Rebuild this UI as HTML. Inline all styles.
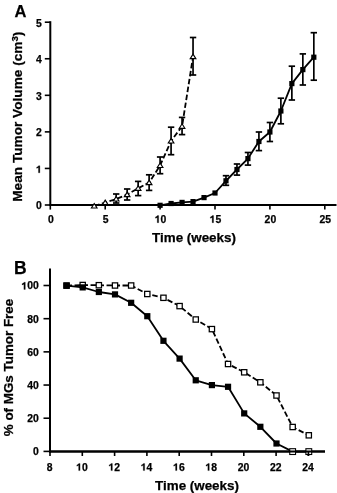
<!DOCTYPE html>
<html><head><meta charset="utf-8"><style>
html,body{margin:0;padding:0;background:#fff;}
svg{display:block;}
body{filter:grayscale(1);}
text{font-family:"Liberation Sans", sans-serif;font-weight:bold;fill:#000;stroke:#000;stroke-width:0.25px;}
</style></head><body>
<svg width="337" height="493" viewBox="0 0 337 493">
<defs><filter id="soft" x="0" y="0" width="100%" height="100%"><feGaussianBlur stdDeviation="0.3"/></filter></defs>
<rect width="337" height="493" fill="#fff"/>
<g filter="url(#soft)">
<line x1="50.30" y1="21.20" x2="50.30" y2="206.00" stroke="#000" stroke-width="2"/>
<line x1="49.30" y1="205.00" x2="336.50" y2="205.00" stroke="#000" stroke-width="2"/>
<line x1="44.80" y1="205.00" x2="50.30" y2="205.00" stroke="#000" stroke-width="1.6"/>
<text x="36.02" y="209.40" font-size="10.4">0</text>
<line x1="44.80" y1="168.44" x2="50.30" y2="168.44" stroke="#000" stroke-width="1.6"/>
<path d="M759,0 L478,0 L478,1030 Q330,930 120,880 L120,1120 Q330,1190 440,1300 Q490,1350 510,1409 L759,1409 Z" transform="translate(36.02,172.84) scale(0.00508,-0.00508)" fill="#000" stroke="#000" stroke-width="49.2"/>
<line x1="44.80" y1="131.88" x2="50.30" y2="131.88" stroke="#000" stroke-width="1.6"/>
<text x="36.02" y="136.28" font-size="10.4">2</text>
<line x1="44.80" y1="95.32" x2="50.30" y2="95.32" stroke="#000" stroke-width="1.6"/>
<text x="36.02" y="99.72" font-size="10.4">3</text>
<line x1="44.80" y1="58.76" x2="50.30" y2="58.76" stroke="#000" stroke-width="1.6"/>
<text x="36.02" y="63.16" font-size="10.4">4</text>
<line x1="44.80" y1="22.20" x2="50.30" y2="22.20" stroke="#000" stroke-width="1.6"/>
<text x="36.02" y="26.60" font-size="10.4">5</text>
<line x1="50.30" y1="205.00" x2="50.30" y2="209.60" stroke="#000" stroke-width="1.6"/>
<text x="47.91" y="222.70" font-size="10.4">0</text>
<line x1="105.20" y1="205.00" x2="105.20" y2="209.60" stroke="#000" stroke-width="1.6"/>
<text x="102.81" y="222.70" font-size="10.4">5</text>
<line x1="160.10" y1="205.00" x2="160.10" y2="209.60" stroke="#000" stroke-width="1.6"/>
<path d="M759,0 L478,0 L478,1030 Q330,930 120,880 L120,1120 Q330,1190 440,1300 Q490,1350 510,1409 L759,1409 Z" transform="translate(154.82,222.70) scale(0.00508,-0.00508)" fill="#000" stroke="#000" stroke-width="49.2"/>
<text x="160.60" y="222.70" font-size="10.4">0</text>
<line x1="215.00" y1="205.00" x2="215.00" y2="209.60" stroke="#000" stroke-width="1.6"/>
<path d="M759,0 L478,0 L478,1030 Q330,930 120,880 L120,1120 Q330,1190 440,1300 Q490,1350 510,1409 L759,1409 Z" transform="translate(209.72,222.70) scale(0.00508,-0.00508)" fill="#000" stroke="#000" stroke-width="49.2"/>
<text x="215.50" y="222.70" font-size="10.4">5</text>
<line x1="269.90" y1="205.00" x2="269.90" y2="209.60" stroke="#000" stroke-width="1.6"/>
<text x="264.62" y="222.70" font-size="10.4">2</text>
<text x="270.40" y="222.70" font-size="10.4">0</text>
<line x1="324.80" y1="205.00" x2="324.80" y2="209.60" stroke="#000" stroke-width="1.6"/>
<text x="319.52" y="222.70" font-size="10.4">2</text>
<text x="325.30" y="222.70" font-size="10.4">5</text>
<line x1="116.18" y1="194.00" x2="116.18" y2="203.00" stroke="#000" stroke-width="1.7"/>
<line x1="112.98" y1="194.00" x2="119.38" y2="194.00" stroke="#000" stroke-width="1.7"/>
<line x1="112.98" y1="203.00" x2="119.38" y2="203.00" stroke="#000" stroke-width="1.7"/>
<line x1="127.16" y1="189.00" x2="127.16" y2="200.00" stroke="#000" stroke-width="1.7"/>
<line x1="123.96" y1="189.00" x2="130.36" y2="189.00" stroke="#000" stroke-width="1.7"/>
<line x1="123.96" y1="200.00" x2="130.36" y2="200.00" stroke="#000" stroke-width="1.7"/>
<line x1="138.14" y1="181.40" x2="138.14" y2="195.60" stroke="#000" stroke-width="1.7"/>
<line x1="134.94" y1="181.40" x2="141.34" y2="181.40" stroke="#000" stroke-width="1.7"/>
<line x1="134.94" y1="195.60" x2="141.34" y2="195.60" stroke="#000" stroke-width="1.7"/>
<line x1="149.12" y1="174.80" x2="149.12" y2="190.40" stroke="#000" stroke-width="1.7"/>
<line x1="145.92" y1="174.80" x2="152.32" y2="174.80" stroke="#000" stroke-width="1.7"/>
<line x1="145.92" y1="190.40" x2="152.32" y2="190.40" stroke="#000" stroke-width="1.7"/>
<line x1="160.10" y1="157.00" x2="160.10" y2="173.70" stroke="#000" stroke-width="1.7"/>
<line x1="156.90" y1="157.00" x2="163.30" y2="157.00" stroke="#000" stroke-width="1.7"/>
<line x1="156.90" y1="173.70" x2="163.30" y2="173.70" stroke="#000" stroke-width="1.7"/>
<line x1="171.08" y1="127.20" x2="171.08" y2="154.70" stroke="#000" stroke-width="1.7"/>
<line x1="167.88" y1="127.20" x2="174.28" y2="127.20" stroke="#000" stroke-width="1.7"/>
<line x1="167.88" y1="154.70" x2="174.28" y2="154.70" stroke="#000" stroke-width="1.7"/>
<line x1="182.06" y1="117.40" x2="182.06" y2="134.60" stroke="#000" stroke-width="1.7"/>
<line x1="178.86" y1="117.40" x2="185.26" y2="117.40" stroke="#000" stroke-width="1.7"/>
<line x1="178.86" y1="134.60" x2="185.26" y2="134.60" stroke="#000" stroke-width="1.7"/>
<line x1="193.04" y1="37.50" x2="193.04" y2="75.00" stroke="#000" stroke-width="1.7"/>
<line x1="189.84" y1="37.50" x2="196.24" y2="37.50" stroke="#000" stroke-width="1.7"/>
<line x1="189.84" y1="75.00" x2="196.24" y2="75.00" stroke="#000" stroke-width="1.7"/>
<line x1="225.98" y1="175.70" x2="225.98" y2="185.30" stroke="#000" stroke-width="1.7"/>
<line x1="222.78" y1="175.70" x2="229.18" y2="175.70" stroke="#000" stroke-width="1.7"/>
<line x1="222.78" y1="185.30" x2="229.18" y2="185.30" stroke="#000" stroke-width="1.7"/>
<line x1="236.96" y1="164.00" x2="236.96" y2="175.10" stroke="#000" stroke-width="1.7"/>
<line x1="233.76" y1="164.00" x2="240.16" y2="164.00" stroke="#000" stroke-width="1.7"/>
<line x1="233.76" y1="175.10" x2="240.16" y2="175.10" stroke="#000" stroke-width="1.7"/>
<line x1="247.94" y1="152.50" x2="247.94" y2="165.10" stroke="#000" stroke-width="1.7"/>
<line x1="244.74" y1="152.50" x2="251.14" y2="152.50" stroke="#000" stroke-width="1.7"/>
<line x1="244.74" y1="165.10" x2="251.14" y2="165.10" stroke="#000" stroke-width="1.7"/>
<line x1="258.92" y1="132.00" x2="258.92" y2="150.60" stroke="#000" stroke-width="1.7"/>
<line x1="255.72" y1="132.00" x2="262.12" y2="132.00" stroke="#000" stroke-width="1.7"/>
<line x1="255.72" y1="150.60" x2="262.12" y2="150.60" stroke="#000" stroke-width="1.7"/>
<line x1="269.90" y1="122.50" x2="269.90" y2="141.50" stroke="#000" stroke-width="1.7"/>
<line x1="266.70" y1="122.50" x2="273.10" y2="122.50" stroke="#000" stroke-width="1.7"/>
<line x1="266.70" y1="141.50" x2="273.10" y2="141.50" stroke="#000" stroke-width="1.7"/>
<line x1="280.88" y1="98.20" x2="280.88" y2="123.80" stroke="#000" stroke-width="1.7"/>
<line x1="277.68" y1="98.20" x2="284.08" y2="98.20" stroke="#000" stroke-width="1.7"/>
<line x1="277.68" y1="123.80" x2="284.08" y2="123.80" stroke="#000" stroke-width="1.7"/>
<line x1="291.86" y1="66.20" x2="291.86" y2="100.00" stroke="#000" stroke-width="1.7"/>
<line x1="288.66" y1="66.20" x2="295.06" y2="66.20" stroke="#000" stroke-width="1.7"/>
<line x1="288.66" y1="100.00" x2="295.06" y2="100.00" stroke="#000" stroke-width="1.7"/>
<line x1="302.84" y1="53.90" x2="302.84" y2="85.00" stroke="#000" stroke-width="1.7"/>
<line x1="299.64" y1="53.90" x2="306.04" y2="53.90" stroke="#000" stroke-width="1.7"/>
<line x1="299.64" y1="85.00" x2="306.04" y2="85.00" stroke="#000" stroke-width="1.7"/>
<line x1="313.82" y1="32.70" x2="313.82" y2="80.20" stroke="#000" stroke-width="1.7"/>
<line x1="310.62" y1="32.70" x2="317.02" y2="32.70" stroke="#000" stroke-width="1.7"/>
<line x1="310.62" y1="80.20" x2="317.02" y2="80.20" stroke="#000" stroke-width="1.7"/>
<polyline points="94.22,206.00 105.20,202.60 116.18,199.00 127.16,194.60 138.14,188.30 149.12,182.60 160.10,165.50 171.08,141.00 182.06,126.30 193.04,56.60" fill="none" stroke="#000" stroke-width="1.8" stroke-dasharray="5.5,2.5" stroke-linejoin="round"/>
<polyline points="160.10,205.30 171.08,203.50 182.06,202.40 193.04,201.60 204.02,197.60 215.00,193.00 225.98,180.80 236.96,169.50 247.94,158.60 258.92,141.50 269.90,132.00 280.88,111.00 291.86,83.60 302.84,69.60 313.82,57.20" fill="none" stroke="#000" stroke-width="1.8" stroke-linejoin="round"/>
<polygon points="94.22,203.50 97.02,208.00 91.42,208.00" fill="#fff" stroke="#000" stroke-width="1.15" stroke-linejoin="miter"/>
<polygon points="105.20,200.10 108.00,204.60 102.40,204.60" fill="#fff" stroke="#000" stroke-width="1.15" stroke-linejoin="miter"/>
<polygon points="116.18,196.50 118.98,201.00 113.38,201.00" fill="#fff" stroke="#000" stroke-width="1.15" stroke-linejoin="miter"/>
<polygon points="127.16,192.10 129.96,196.60 124.36,196.60" fill="#fff" stroke="#000" stroke-width="1.15" stroke-linejoin="miter"/>
<polygon points="138.14,185.80 140.94,190.30 135.34,190.30" fill="#fff" stroke="#000" stroke-width="1.15" stroke-linejoin="miter"/>
<polygon points="149.12,180.10 151.92,184.60 146.32,184.60" fill="#fff" stroke="#000" stroke-width="1.15" stroke-linejoin="miter"/>
<polygon points="160.10,163.00 162.90,167.50 157.30,167.50" fill="#fff" stroke="#000" stroke-width="1.15" stroke-linejoin="miter"/>
<polygon points="171.08,138.50 173.88,143.00 168.28,143.00" fill="#fff" stroke="#000" stroke-width="1.15" stroke-linejoin="miter"/>
<polygon points="182.06,123.80 184.86,128.30 179.26,128.30" fill="#fff" stroke="#000" stroke-width="1.15" stroke-linejoin="miter"/>
<polygon points="193.04,54.10 195.84,58.60 190.24,58.60" fill="#fff" stroke="#000" stroke-width="1.15" stroke-linejoin="miter"/>
<rect x="157.50" y="202.70" width="5.20" height="5.20" fill="#000"/>
<rect x="168.48" y="200.90" width="5.20" height="5.20" fill="#000"/>
<rect x="179.46" y="199.80" width="5.20" height="5.20" fill="#000"/>
<rect x="190.44" y="199.00" width="5.20" height="5.20" fill="#000"/>
<rect x="201.42" y="195.00" width="5.20" height="5.20" fill="#000"/>
<rect x="212.40" y="190.40" width="5.20" height="5.20" fill="#000"/>
<rect x="223.38" y="178.20" width="5.20" height="5.20" fill="#000"/>
<rect x="234.36" y="166.90" width="5.20" height="5.20" fill="#000"/>
<rect x="245.34" y="156.00" width="5.20" height="5.20" fill="#000"/>
<rect x="256.32" y="138.90" width="5.20" height="5.20" fill="#000"/>
<rect x="267.30" y="129.40" width="5.20" height="5.20" fill="#000"/>
<rect x="278.28" y="108.40" width="5.20" height="5.20" fill="#000"/>
<rect x="289.26" y="81.00" width="5.20" height="5.20" fill="#000"/>
<rect x="300.24" y="67.00" width="5.20" height="5.20" fill="#000"/>
<rect x="311.22" y="54.60" width="5.20" height="5.20" fill="#000"/>
<text x="14.60" y="16.60" font-size="16.5" text-anchor="start" font-weight="bold">A</text>
<text x="194.00" y="241.80" font-size="13.4" text-anchor="middle">Time (weeks)</text>
<text transform="translate(21.9,116.7) rotate(-90)" font-size="13.65" text-anchor="middle">Mean Tumor Volume (cm<tspan font-size="9.8" dy="-4.4">3</tspan><tspan dy="4.4">)</tspan></text>
<line x1="50.00" y1="268.40" x2="50.00" y2="452.40" stroke="#000" stroke-width="2"/>
<line x1="49.00" y1="451.40" x2="325.00" y2="451.40" stroke="#000" stroke-width="2"/>
<line x1="43.50" y1="451.40" x2="50.00" y2="451.40" stroke="#000" stroke-width="1.6"/>
<text x="33.02" y="455.30" font-size="10.4">0</text>
<line x1="43.50" y1="418.22" x2="50.00" y2="418.22" stroke="#000" stroke-width="1.6"/>
<text x="27.24" y="422.12" font-size="10.4">2</text>
<text x="33.02" y="422.12" font-size="10.4">0</text>
<line x1="43.50" y1="385.04" x2="50.00" y2="385.04" stroke="#000" stroke-width="1.6"/>
<text x="27.24" y="388.94" font-size="10.4">4</text>
<text x="33.02" y="388.94" font-size="10.4">0</text>
<line x1="43.50" y1="351.86" x2="50.00" y2="351.86" stroke="#000" stroke-width="1.6"/>
<text x="27.24" y="355.76" font-size="10.4">6</text>
<text x="33.02" y="355.76" font-size="10.4">0</text>
<line x1="43.50" y1="318.68" x2="50.00" y2="318.68" stroke="#000" stroke-width="1.6"/>
<text x="27.24" y="322.58" font-size="10.4">8</text>
<text x="33.02" y="322.58" font-size="10.4">0</text>
<line x1="43.50" y1="285.50" x2="50.00" y2="285.50" stroke="#000" stroke-width="1.6"/>
<path d="M759,0 L478,0 L478,1030 Q330,930 120,880 L120,1120 Q330,1190 440,1300 Q490,1350 510,1409 L759,1409 Z" transform="translate(21.45,289.40) scale(0.00508,-0.00508)" fill="#000" stroke="#000" stroke-width="49.2"/>
<text x="27.24" y="289.40" font-size="10.4">0</text>
<text x="33.02" y="289.40" font-size="10.4">0</text>
<line x1="50.00" y1="451.40" x2="50.00" y2="456.00" stroke="#000" stroke-width="1.6"/>
<text x="46.81" y="470.60" font-size="10.4">8</text>
<line x1="82.30" y1="451.40" x2="82.30" y2="456.00" stroke="#000" stroke-width="1.6"/>
<path d="M759,0 L478,0 L478,1030 Q330,930 120,880 L120,1120 Q330,1190 440,1300 Q490,1350 510,1409 L759,1409 Z" transform="translate(76.22,470.60) scale(0.00508,-0.00508)" fill="#000" stroke="#000" stroke-width="49.2"/>
<text x="82.00" y="470.60" font-size="10.4">0</text>
<line x1="114.60" y1="451.40" x2="114.60" y2="456.00" stroke="#000" stroke-width="1.6"/>
<path d="M759,0 L478,0 L478,1030 Q330,930 120,880 L120,1120 Q330,1190 440,1300 Q490,1350 510,1409 L759,1409 Z" transform="translate(108.52,470.60) scale(0.00508,-0.00508)" fill="#000" stroke="#000" stroke-width="49.2"/>
<text x="114.30" y="470.60" font-size="10.4">2</text>
<line x1="146.90" y1="451.40" x2="146.90" y2="456.00" stroke="#000" stroke-width="1.6"/>
<path d="M759,0 L478,0 L478,1030 Q330,930 120,880 L120,1120 Q330,1190 440,1300 Q490,1350 510,1409 L759,1409 Z" transform="translate(140.82,470.60) scale(0.00508,-0.00508)" fill="#000" stroke="#000" stroke-width="49.2"/>
<text x="146.60" y="470.60" font-size="10.4">4</text>
<line x1="179.20" y1="451.40" x2="179.20" y2="456.00" stroke="#000" stroke-width="1.6"/>
<path d="M759,0 L478,0 L478,1030 Q330,930 120,880 L120,1120 Q330,1190 440,1300 Q490,1350 510,1409 L759,1409 Z" transform="translate(173.12,470.60) scale(0.00508,-0.00508)" fill="#000" stroke="#000" stroke-width="49.2"/>
<text x="178.90" y="470.60" font-size="10.4">6</text>
<line x1="211.50" y1="451.40" x2="211.50" y2="456.00" stroke="#000" stroke-width="1.6"/>
<path d="M759,0 L478,0 L478,1030 Q330,930 120,880 L120,1120 Q330,1190 440,1300 Q490,1350 510,1409 L759,1409 Z" transform="translate(205.42,470.60) scale(0.00508,-0.00508)" fill="#000" stroke="#000" stroke-width="49.2"/>
<text x="211.20" y="470.60" font-size="10.4">8</text>
<line x1="243.80" y1="451.40" x2="243.80" y2="456.00" stroke="#000" stroke-width="1.6"/>
<text x="237.72" y="470.60" font-size="10.4">2</text>
<text x="243.50" y="470.60" font-size="10.4">0</text>
<line x1="276.10" y1="451.40" x2="276.10" y2="456.00" stroke="#000" stroke-width="1.6"/>
<text x="270.02" y="470.60" font-size="10.4">2</text>
<text x="275.80" y="470.60" font-size="10.4">2</text>
<line x1="308.40" y1="451.40" x2="308.40" y2="456.00" stroke="#000" stroke-width="1.6"/>
<text x="302.32" y="470.60" font-size="10.4">2</text>
<text x="308.10" y="470.60" font-size="10.4">4</text>
<polyline points="66.55,285.60 82.70,285.00 98.85,285.20 115.00,285.50 131.15,285.50 147.30,294.00 163.45,297.80 179.60,306.10 195.75,319.50 211.90,329.10 228.05,364.00 244.20,372.30 260.35,382.30 276.50,395.50 292.65,427.00 308.80,435.30" fill="none" stroke="#000" stroke-width="1.8" stroke-dasharray="5.5,2.5" stroke-linejoin="round"/>
<polyline points="66.55,285.60 82.70,287.40 98.85,292.00 115.00,294.40 131.15,302.80 147.30,316.20 163.45,340.80 179.60,358.60 195.75,380.30 211.90,385.10 228.05,386.80 244.20,413.40 260.35,426.80 276.50,443.50 292.65,451.60 308.80,451.60" fill="none" stroke="#000" stroke-width="1.8" stroke-linejoin="round"/>
<rect x="63.90" y="282.95" width="5.30" height="5.30" fill="#fff" stroke="#000" stroke-width="1.25"/>
<rect x="80.05" y="282.35" width="5.30" height="5.30" fill="#fff" stroke="#000" stroke-width="1.25"/>
<rect x="96.20" y="282.55" width="5.30" height="5.30" fill="#fff" stroke="#000" stroke-width="1.25"/>
<rect x="112.35" y="282.85" width="5.30" height="5.30" fill="#fff" stroke="#000" stroke-width="1.25"/>
<rect x="128.50" y="282.85" width="5.30" height="5.30" fill="#fff" stroke="#000" stroke-width="1.25"/>
<rect x="144.65" y="291.35" width="5.30" height="5.30" fill="#fff" stroke="#000" stroke-width="1.25"/>
<rect x="160.80" y="295.15" width="5.30" height="5.30" fill="#fff" stroke="#000" stroke-width="1.25"/>
<rect x="176.95" y="303.45" width="5.30" height="5.30" fill="#fff" stroke="#000" stroke-width="1.25"/>
<rect x="193.10" y="316.85" width="5.30" height="5.30" fill="#fff" stroke="#000" stroke-width="1.25"/>
<rect x="209.25" y="326.45" width="5.30" height="5.30" fill="#fff" stroke="#000" stroke-width="1.25"/>
<rect x="225.40" y="361.35" width="5.30" height="5.30" fill="#fff" stroke="#000" stroke-width="1.25"/>
<rect x="241.55" y="369.65" width="5.30" height="5.30" fill="#fff" stroke="#000" stroke-width="1.25"/>
<rect x="257.70" y="379.65" width="5.30" height="5.30" fill="#fff" stroke="#000" stroke-width="1.25"/>
<rect x="273.85" y="392.85" width="5.30" height="5.30" fill="#fff" stroke="#000" stroke-width="1.25"/>
<rect x="290.00" y="424.35" width="5.30" height="5.30" fill="#fff" stroke="#000" stroke-width="1.25"/>
<rect x="306.15" y="432.65" width="5.30" height="5.30" fill="#fff" stroke="#000" stroke-width="1.25"/>
<rect x="63.45" y="282.50" width="6.20" height="6.20" fill="#000"/>
<rect x="79.60" y="284.30" width="6.20" height="6.20" fill="#000"/>
<rect x="95.75" y="288.90" width="6.20" height="6.20" fill="#000"/>
<rect x="111.90" y="291.30" width="6.20" height="6.20" fill="#000"/>
<rect x="128.05" y="299.70" width="6.20" height="6.20" fill="#000"/>
<rect x="144.20" y="313.10" width="6.20" height="6.20" fill="#000"/>
<rect x="160.35" y="337.70" width="6.20" height="6.20" fill="#000"/>
<rect x="176.50" y="355.50" width="6.20" height="6.20" fill="#000"/>
<rect x="192.65" y="377.20" width="6.20" height="6.20" fill="#000"/>
<rect x="208.80" y="382.00" width="6.20" height="6.20" fill="#000"/>
<rect x="224.95" y="383.70" width="6.20" height="6.20" fill="#000"/>
<rect x="241.10" y="410.30" width="6.20" height="6.20" fill="#000"/>
<rect x="257.25" y="423.70" width="6.20" height="6.20" fill="#000"/>
<rect x="273.40" y="440.40" width="6.20" height="6.20" fill="#000"/>
<rect x="289.75" y="448.70" width="5.80" height="5.80" fill="#fff" stroke="#000" stroke-width="1.1"/>
<rect x="305.90" y="448.70" width="5.80" height="5.80" fill="#fff" stroke="#000" stroke-width="1.1"/>
<line x1="49.00" y1="451.40" x2="325.00" y2="451.40" stroke="#000" stroke-width="2"/>
<line x1="308.40" y1="451.40" x2="308.40" y2="456.00" stroke="#000" stroke-width="1.6"/>
<text x="13.90" y="273.60" font-size="17.5" text-anchor="start" font-weight="bold">B</text>
<text x="197.00" y="489.60" font-size="13.4" text-anchor="middle">Time (weeks)</text>
<text transform="translate(12.8,367.5) rotate(-90)" font-size="13.4" text-anchor="middle">% of MGs Tumor Free</text>
</g>
</svg>
</body></html>
